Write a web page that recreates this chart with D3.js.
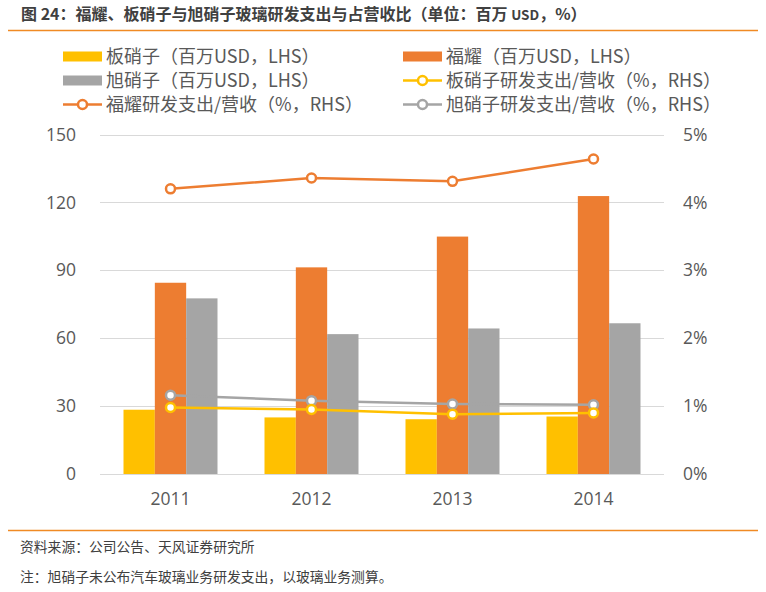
<!DOCTYPE html>
<html>
<head>
<meta charset="utf-8">
<script src="https://cdn.jsdelivr.net/npm/d3@7/dist/d3.min.js"></script>
<style>
  html, body { margin: 0; padding: 0; background: #fff; }
  svg { display: block; font-family: "Noto Sans CJK SC", "Open Sans", sans-serif; }
</style>
</head>
<body>
<svg id="chart" width="766" height="592"></svg>
<script>
// ---- data ----
const years = ["2011", "2012", "2013", "2014"];
const seriesNames = ["板硝子", "福耀", "旭硝子"];
const nsgSpend = [28.4, 25.0, 24.2, 25.4];       // 板硝子 (百万USD)
const fuyaoSpend = [84.5, 91.3, 104.9, 122.8];   // 福耀 (百万USD)
const agcSpend = [77.6, 61.8, 64.3, 66.6];       // 旭硝子 (百万USD)
const nsgRatio = [0.98, 0.95, 0.88, 0.90];       // 板硝子研发支出/营收 %
const fuyaoRatio = [4.20, 4.36, 4.31, 4.64];     // 福耀研发支出/营收 %
const agcRatio = [1.16, 1.08, 1.03, 1.02];       // 旭硝子研发支出/营收 %
const leftTicks = [0, 30, 60, 90, 120, 150];
const rightTicks = [0, 1, 2, 3, 4, 5];
const legendLabels = [
  "板硝子（百万USD，LHS）", "福耀（百万USD，LHS）",
  "旭硝子（百万USD，LHS）", "板硝子研发支出/营收（%，RHS）",
  "福耀研发支出/营收（%，RHS）", "旭硝子研发支出/营收（%，RHS）"
];
const titleParts = ["图 24：福耀、板硝子与旭硝子玻璃研发支出与占营收比（单位：百万 ", "USD", "，%）"];
const sourceText = "资料来源：公司公告、天风证券研究所";
const noteText = "注：旭硝子未公布汽车玻璃业务研发支出，以玻璃业务测算。";

// ---- styles ----
const cYellow = "#FFC000", cOrange = "#ED7D31", cGray = "#A5A5A5";
const textColor = "#595959";
const barColors = [cYellow, cOrange, cGray];

const svg = d3.select("#chart");

// header
const title = svg.append("text").attr("x", 21).attr("y", 20)
  .attr("font-size", 16).attr("font-weight", "bold").attr("fill", "#404040");
title.append("tspan").text(titleParts[0]);
title.append("tspan").attr("font-size", 13.5).text(titleParts[1]);
title.append("tspan").text(titleParts[2]);
svg.append("line").attr("x1", 8).attr("x2", 758).attr("y1", 30.5).attr("y2", 30.5)
  .attr("stroke", "#F08A24").attr("stroke-width", 1.5);

// scales
const plotL = 100, plotR = 664, y0 = 474, yTop = 134.5;
const x = d3.scaleBand().domain(years).range([plotL, plotR]).paddingInner(0).paddingOuter(0);
const xs = d3.scaleBand().domain(seriesNames).range([0, x.bandwidth()]).paddingInner(0).paddingOuter(0.75);
const yL = d3.scaleLinear().domain([0, 150]).range([y0, yTop]);
const yR = d3.scaleLinear().domain([0, 5]).range([y0, yTop]);

// gridlines
svg.append("g").selectAll("line").data(leftTicks).join("line")
  .attr("x1", plotL).attr("x2", plotR)
  .attr("y1", d => Math.round(yL(d)) + 0.5).attr("y2", d => Math.round(yL(d)) + 0.5)
  .attr("stroke", "#D9D9D9").attr("stroke-width", 1.2);

// axes
const axL = d3.axisLeft(yL).tickValues(leftTicks).tickSize(0).tickPadding(0);
const gL = svg.append("g").attr("transform", `translate(76,0)`).call(axL);
gL.select(".domain").remove();
gL.selectAll("text").attr("font-size", 17.5).attr("fill", textColor)
  .attr("font-family", "'Open Sans', 'Noto Sans CJK SC', sans-serif");

const axR = d3.axisRight(yR).tickValues(rightTicks).tickFormat(d => d + "%").tickSize(0).tickPadding(0);
const gR = svg.append("g").attr("transform", `translate(683,0)`).call(axR);
gR.select(".domain").remove();
gR.selectAll("text").attr("font-size", 17.5).attr("fill", textColor)
  .attr("font-family", "'Open Sans', 'Noto Sans CJK SC', sans-serif");

const axB = d3.axisBottom(x).tickSize(0).tickPadding(0);
const gB = svg.append("g").attr("transform", `translate(0,${y0})`).call(axB);
gB.select(".domain").remove();
gB.selectAll("text").attr("dy", 0).attr("y", 31).attr("font-size", 17.5).attr("fill", textColor)
  .attr("font-family", "'Open Sans', 'Noto Sans CJK SC', sans-serif");

// bars
const barData = [nsgSpend, fuyaoSpend, agcSpend];
seriesNames.forEach((s, si) => {
  svg.append("g").selectAll("rect").data(years).join("rect")
    .attr("x", d => x(d) + xs(s))
    .attr("width", xs.bandwidth())
    .attr("y", (d, i) => yL(barData[si][i]))
    .attr("height", (d, i) => y0 - yL(barData[si][i]))
    .attr("fill", barColors[si]);
});

// lines
const lineData = [
  { vals: fuyaoRatio, color: cOrange },
  { vals: agcRatio, color: cGray },
  { vals: nsgRatio, color: cYellow }
];
const lineGen = d3.line().x((d, i) => x(years[i]) + x.bandwidth() / 2).y(d => yR(d));
lineData.forEach(ld => {
  svg.append("path").datum(ld.vals).attr("d", lineGen)
    .attr("fill", "none").attr("stroke", ld.color).attr("stroke-width", 2.5);
  svg.append("g").selectAll("circle").data(ld.vals).join("circle")
    .attr("cx", (d, i) => x(years[i]) + x.bandwidth() / 2)
    .attr("cy", d => yR(d))
    .attr("r", 4.5)
    .attr("fill", "#fff").attr("stroke", ld.color).attr("stroke-width", 2.5);
});

// legend
const legItems = [
  { type: "bar", color: cYellow }, { type: "bar", color: cOrange },
  { type: "bar", color: cGray }, { type: "line", color: cYellow },
  { type: "line", color: cOrange }, { type: "line", color: cGray }
];
const legX = [63, 403], legY = [56.5, 80.5, 104.5];
legItems.forEach((it, i) => {
  const col = i % 2, row = Math.floor(i / 2);
  const gx = legX[col], gy = legY[row];
  const g = svg.append("g");
  if (it.type === "bar") {
    g.append("rect").attr("x", gx).attr("y", gy - 5).attr("width", 39).attr("height", 10).attr("fill", it.color);
  } else {
    g.append("line").attr("x1", gx).attr("x2", gx + 39).attr("y1", gy).attr("y2", gy)
      .attr("stroke", it.color).attr("stroke-width", 2.5);
    g.append("circle").attr("cx", gx + 19.5).attr("cy", gy).attr("r", 4.5)
      .attr("fill", "#fff").attr("stroke", it.color).attr("stroke-width", 2.5);
  }
  g.append("text").attr("x", gx + 43).attr("y", gy).attr("dy", "0.35em")
    .attr("font-size", 18).attr("fill", textColor).text(legendLabels[i]);
});

// footer
svg.append("line").attr("x1", 8).attr("x2", 758).attr("y1", 530.5).attr("y2", 530.5)
  .attr("stroke", "#F08A24").attr("stroke-width", 1.5);
svg.append("text").attr("x", 20).attr("y", 551.5).attr("font-size", 13.8).attr("fill", "#404040").text(sourceText);
svg.append("text").attr("x", 20).attr("y", 581.5).attr("font-size", 13.8).attr("fill", "#404040").text(noteText);
</script>
</body>
</html>
